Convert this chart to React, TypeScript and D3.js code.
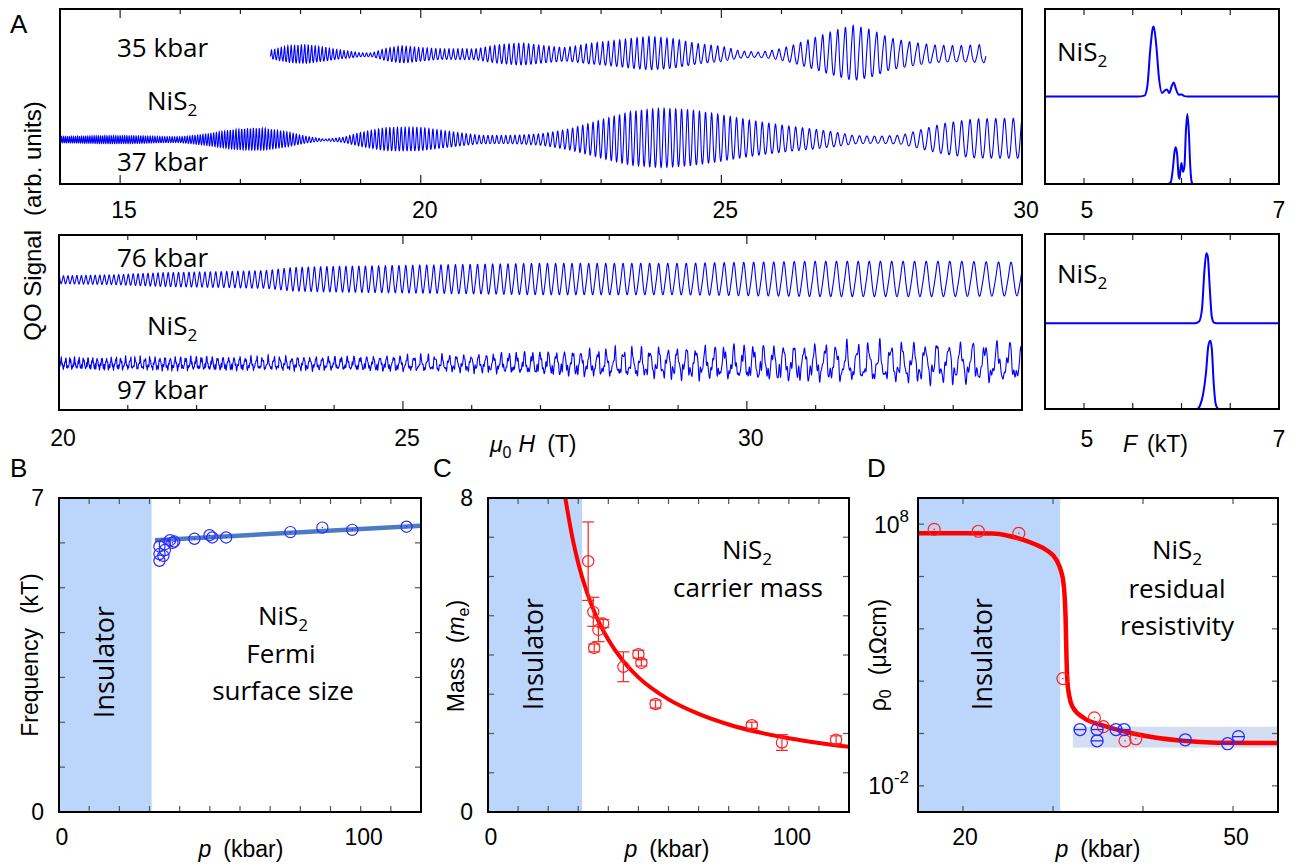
import React from 'react';
import * as d3 from 'd3';

// ---------- Panel A: quantum-oscillation traces ----------
// envelope = half-amplitude (arb. units) vs field (T)
const env35: [number, number][] = [[17.5,0.5],[17.8,0.9],[18.1,1.1],[18.4,0.9],[18.7,0.5],[19.0,0.2],[19.2,0.2],[19.4,0.6],[19.7,1.0],[20.1,1.0],[20.5,0.8],[20.9,0.6],[21.3,0.9],[21.7,1.1],[22.0,1.0],[22.4,0.9],[22.8,1.4],[23.3,1.6],[23.8,1.9],[24.2,1.8],[24.6,1.4],[25.0,1.1],[25.3,0.5],[25.6,0.3],[25.9,0.5],[26.2,0.9],[26.6,1.6],[26.9,2.2],[27.2,2.8],[27.5,2.6],[27.8,2.0],[28.2,1.7],[28.6,1.4],[29.0,1.3],[29.4,1.3]];
const env37: [number, number][] = [[14,0.4],[15,0.4],[16,0.5],[16.4,0.7],[16.9,1.0],[17.4,1.1],[17.8,0.8],[18.1,0.4],[18.4,0.1],[18.7,0.3],[19.0,0.8],[19.4,1.2],[20.0,1.2],[20.5,0.9],[21.0,0.6],[21.5,0.7],[22.0,0.9],[22.5,1.4],[23.0,2.1],[23.5,2.7],[24.0,2.9],[24.5,2.8],[25.0,2.5],[25.5,2.1],[26.0,1.7],[26.5,1.3],[26.9,0.9],[27.2,0.5],[27.6,0.4],[28.0,0.5],[28.3,1.0],[28.7,1.6],[29.2,2.0],[30.0,2.1]];
const env76: [number, number][] = [[20,0.4],[20.8,0.5],[21.5,0.7],[22.3,0.8],[23.0,0.9],[23.4,1.2],[24,1.3],[25,1.4],[26,1.5],[27,1.6],[28,1.6],[29,1.6],[30,1.7],[31,1.8],[32,1.8],[33,1.8],[34,1.7]];
const env97: [number, number][] = [[20,0.6],[22,0.7],[24,0.7],[25,0.8],[26,0.9],[27,1.2],[28,1.4],[29,1.6],[30,1.8],[31,1.9],[32,2.0],[33,2.1],[34,2.0]];
// dominant frequencies (T) and vertical offsets (arb. units)
const freqA = { p35: 5710, p37: 6060, p76: 6260, p97: 6290 };
const offsetA = { p35: 12.9, p37: 4.4, p76: 13.0, p97: 4.6 };
// extra spectral content [frequency multiple, rel. amplitude, phase] (secondary FFT peaks + harmonics)
const harm35: [number, number, number][] = [[1.0228, 0.12, 0.3], [1.0368, 0.18, 1.0], [2, 0.14, 0.7], [3, 0.06, 1.3]];
const harm37: [number, number, number][] = [[0.980, 0.18, 0.6], [0.990, 0.12, 2.1], [2, 0.1, 0.4]];
const harm76: [number, number, number][] = [[2, 0.1, 0.9], [3, 0.04, 0.2]];
const harm97: [number, number, number][] = [[2, 0.22, 0.5], [2.63, 0.3, 0.2], [3.71, 0.25, 1.1], [5.3, 0.15, 0.4]];

const fieldTicksUpper = [15, 20, 25, 30];
const fieldTicksLower = [20, 25, 30];

// ---------- FFT spectra: [F (kT), amplitude] ----------
const fft35: [number, number][] = [[4.6,0],[5.55,0],[5.62,0.005],[5.65,0.06],[5.68,0.27],[5.705,0.39],[5.715,0.40],[5.74,0.3],[5.77,0.1],[5.8,0.02],[5.83,0.035],[5.85,0.04],[5.875,0.02],[5.9,0.06],[5.92,0.08],[5.945,0.04],[5.97,0.01],[6.0,0.012],[6.03,0.002],[6.06,0],[7,0]];
const fft37: [number, number][] = [[4.6,0],[5.86,0],[5.89,0.01],[5.91,0.08],[5.93,0.19],[5.94,0.21],[5.955,0.17],[5.97,0.05],[5.98,0.03],[5.99,0.09],[6.0,0.12],[6.015,0.07],[6.03,0.1],[6.045,0.3],[6.06,0.40],[6.075,0.3],[6.09,0.1],[6.105,0.01],[6.12,0],[7,0]];
const fft76: [number, number][] = [[4.6,0],[6.14,0],[6.18,0.01],[6.21,0.08],[6.235,0.3],[6.255,0.4],[6.27,0.38],[6.29,0.2],[6.31,0.04],[6.33,0.005],[6.36,0],[7,0]];
const fft97: [number, number][] = [[4.6,0],[6.16,0],[6.19,0.02],[6.22,0.08],[6.25,0.2],[6.275,0.36],[6.295,0.39],[6.31,0.35],[6.33,0.15],[6.35,0.03],[6.37,0.005],[6.39,0],[7,0]];
const fftOffsets = { p35: 0.5, p37: 0, p76: 0.49, p97: 0 };
const fftTicks = [5, 5.5, 6, 6.5, 7];

// ---------- Panel B: frequency vs pressure ----------
const pB = [33.3,33.3,33.3,34.6,35.1,35.1,36.8,37.6,38.2,44.9,49.9,50.8,55.4,76.7,87.3,97.2,115.2];
const freqB = [5.6,5.75,5.92,5.71,5.84,5.97,6.06,6.0,6.03,6.09,6.17,6.12,6.12,6.24,6.34,6.29,6.36];
const fitB: [number, number][] = [[31.8, 6.06], [120, 6.38]];
const insulatorB = 30.7;

// ---------- Panel C: carrier mass ----------
const pC = [33.3,35.0,35.3,36.7,38.3,45.0,50.0,51.0,55.7,87.7,97.7,115.7];
const massC = [6.39,5.1,4.18,4.64,4.8,3.7,4.02,3.8,2.75,2.21,1.77,1.84];
const errC = [1.0,0.37,0.1,0.3,0.1,0.38,0.1,0.08,0.1,0.08,0.2,0.1];
const fitC: [number, number][] = [[25.7,8.0],[28,7.01],[30,6.34],[33,5.57],[36,4.98],[40,4.39],[45,3.84],[50,3.43],[60,2.87],[70,2.5],[80,2.23],[90,2.03],[100,1.88],[110,1.76],[120,1.66]];
const insulatorC = 31.3;

// ---------- Panel D: residual resistivity (log10 of µΩcm) ----------
const pDred = [16.8,21.7,26.2,31.1,34.6,35.6,38.0,39.2];
const logRhoRed = [7.8,7.73,7.65,2.1,0.6,0.26,-0.28,-0.2];
const pDblue = [33.0,34.9,34.9,37.0,37.9,44.7,49.4,50.6];
const logRhoBlue = [0.15,0.15,-0.28,0.15,0.15,-0.24,-0.39,-0.12];
const fitD: [number, number][] = [[15,7.65],[20,7.65],[23.3,7.64],[25,7.56],[26.7,7.4],[28,7.23],[29.3,7.0],[30.4,6.62],[30.9,6.2],[31.1,5.9],[31.3,5.2],[31.4,4.4],[31.5,2.9],[31.6,2.0],[31.8,1.45],[32.2,1.0],[33.4,0.6],[35.6,0.3],[38.9,0.0],[44.4,-0.28],[48.2,-0.35],[55,-0.36]];
const bandD = { p0: 32.2, p1: 55, lo: -0.54, hi: 0.26 };
const insulatorD = 30.8;

const BLUE = '#0000ff';
const RED = '#ff0000';
const INS = '#bcd6fb';
const SANS = '"Liberation Sans", Arial, sans-serif';
const TXT = '"Open Sans", "Noto Sans", sans-serif';

function buildTrace(env: [number, number][], F: number, offset: number, harm: [number, number, number][], step: number) {
  const amp = d3.scaleLinear().domain(env.map(d => d[0])).range(env.map(d => d[1])).clamp(true);
  const b0 = env[0][0], b1 = env[env.length - 1][0];
  const norm = 1 + 0.5 * harm.reduce((s, h) => s + h[1], 0);
  const pts: [number, number][] = [];
  for (let B = b0; B <= b1 + 1e-9; B += step) {
    let s = Math.cos(2 * Math.PI * F / B);
    for (const [k, a, ph] of harm) s += a * Math.cos(2 * Math.PI * k * F / B + ph);
    pts.push([B, offset + amp(B) * s / norm]);
  }
  return pts;
}

const NiS2 = ({ x, y, size = 26, anchor = 'middle' }: any) => (
  <text x={x} y={y} fontFamily={TXT} fontSize={size} textAnchor={anchor}>
    NiS<tspan dy={size * 0.22} fontSize={size * 0.66}>2</tspan>
  </text>
);

function boxTicksX(scale: any, vals: number[], y0: number, y1: number, len: (v: number) => number, color = '#444') {
  return vals.map((v, i) => (
    <g key={'tx' + i}>
      <line x1={scale(v)} x2={scale(v)} y1={y1} y2={y1 - len(v)} stroke={color} strokeWidth={1.2} />
      <line x1={scale(v)} x2={scale(v)} y1={y0} y2={y0 + len(v)} stroke={color} strokeWidth={1.2} />
    </g>
  ));
}
function boxTicksY(scale: any, vals: number[], x0: number, x1: number, len = 6, color = '#555') {
  return vals.map((v, i) => (
    <g key={'ty' + i}>
      <line x1={x0} x2={x0 + len} y1={scale(v)} y2={scale(v)} stroke={color} strokeWidth={1.2} />
      <line x1={x1} x2={x1 - len} y1={scale(v)} y2={scale(v)} stroke={color} strokeWidth={1.2} />
    </g>
  ));
}

export default function App() {
  // ---- Panel A scales
  const xA1 = d3.scaleLinear().domain([14, 30]).range([60, 1022]);
  const yA1 = d3.scaleLinear().domain([0, 17.5]).range([184, 9]);
  const xA2 = d3.scaleLinear().domain([20, 34]).range([59, 1022]);
  const yA2 = d3.scaleLinear().domain([0, 17.5]).range([410, 235]);
  const lineA1 = d3.line<[number, number]>().x(d => xA1(d[0])).y(d => yA1(d[1]));
  const lineA2 = d3.line<[number, number]>().x(d => xA2(d[0])).y(d => yA2(d[1]));
  const t35 = buildTrace(env35, freqA.p35, offsetA.p35, harm35, 0.0025);
  const t37 = buildTrace(env37, freqA.p37, offsetA.p37, harm37, 0.0025);
  const t76 = buildTrace(env76, freqA.p76, offsetA.p76, harm76, 0.002);
  const t97 = buildTrace(env97, freqA.p97, offsetA.p97, harm97, 0.0015);

  // ---- FFT scales
  const xF = d3.scaleLinear().domain([4.6, 7]).range([1045, 1279]);
  const yF1 = d3.scaleLinear().domain([0, 1]).range([184, 9]);
  const yF2 = d3.scaleLinear().domain([0, 1]).range([409, 234]);
  const lineF = (ys: any, off: number) => d3.line<[number, number]>().x(d => xF(d[0])).y(d => ys(d[1] + off)).curve(d3.curveMonotoneX);

  // ---- B/C/D scales
  const xB = d3.scaleLinear().domain([0, 120]).range([59, 421]);
  const yB = d3.scaleLinear().domain([0, 7]).range([812, 498]);
  const xC = d3.scaleLinear().domain([0, 120]).range([488, 849]);
  const yC = d3.scaleLinear().domain([0, 8]).range([812, 498]);
  const xD = d3.scaleLinear().domain([15, 55]).range([918, 1278]);
  const yD = d3.scaleLog().domain([1e-3, 1e9]).range([812, 498]);
  const lineC = d3.line<[number, number]>().x(d => xC(d[0])).y(d => yC(d[1])).curve(d3.curveMonotoneX);
  const lineD = d3.line<[number, number]>().x(d => xD(d[0])).y(d => yD(Math.pow(10, d[1]))).curve(d3.curveMonotoneX);

  const intTicks = (a: number, b: number, s = 1) => d3.range(a, b + 1e-9, s);

  return (
    <svg width={1297} height={865} style={{ position: 'absolute', left: 0, top: 0, background: '#fff' }}>
      <defs>
        <clipPath id="cA1"><rect x={60} y={9} width={962} height={175} /></clipPath>
        <clipPath id="cA2"><rect x={59} y={235} width={963} height={175} /></clipPath>
        <clipPath id="cF1"><rect x={1045} y={9} width={234} height={175} /></clipPath>
        <clipPath id="cF2"><rect x={1045} y={234} width={234} height={175} /></clipPath>
        <clipPath id="cB"><rect x={59} y={498} width={362} height={314} /></clipPath>
        <clipPath id="cC"><rect x={488} y={498} width={361} height={314} /></clipPath>
        <clipPath id="cD"><rect x={918} y={498} width={360} height={314} /></clipPath>
      </defs>

      {/* ===== Panel A upper ===== */}
      <text x={10} y={33} fontFamily={SANS} fontSize={26}>A</text>
      <g clipPath="url(#cA1)">
        <path d={lineA1(t35) as string} fill="none" stroke={BLUE} strokeWidth={1.1} />
        <path d={lineA1(t37) as string} fill="none" stroke={BLUE} strokeWidth={1.1} />
      </g>
      {boxTicksX(xA1, intTicks(15, 29), 9, 184, v => (fieldTicksUpper.includes(v) ? 9 : 5), '#222')}
      <rect x={60} y={9} width={962} height={175} fill="none" stroke="#000" strokeWidth={2} />
      {fieldTicksUpper.map(v => (
        <text key={'a1' + v} x={xA1(v) + 4} y={218} fontFamily={SANS} fontSize={23} textAnchor="middle">{v}</text>
      ))}
      <text x={117} y={57} fontFamily={TXT} fontSize={26}>35 kbar</text>
      <NiS2 x={147} y={110} anchor="start" />
      <text x={117} y={171} fontFamily={TXT} fontSize={26}>37 kbar</text>

      {/* ===== Panel A lower ===== */}
      <g clipPath="url(#cA2)">
        <path d={lineA2(t76) as string} fill="none" stroke={BLUE} strokeWidth={1.1} />
        <path d={lineA2(t97) as string} fill="none" stroke={BLUE} strokeWidth={1.1} />
      </g>
      {boxTicksX(xA2, intTicks(21, 33), 235, 410, v => (fieldTicksLower.includes(v) ? 9 : 5), '#222')}
      <rect x={59} y={235} width={963} height={175} fill="none" stroke="#000" strokeWidth={2} />
      {fieldTicksLower.map(v => (
        <text key={'a2' + v} x={xA2(v) + 4} y={446} fontFamily={SANS} fontSize={23} textAnchor="middle">{v}</text>
      ))}
      <text x={117} y={267} fontFamily={TXT} fontSize={26}>76 kbar</text>
      <NiS2 x={147} y={335} anchor="start" />
      <text x={117} y={399} fontFamily={TXT} fontSize={26}>97 kbar</text>
      <text x={490} y={452} fontFamily={SANS} fontSize={23}>
        <tspan fontStyle="italic">μ</tspan>
        <tspan dy={6} fontSize={16}>0</tspan>
        <tspan dy={-6} dx={7} fontStyle="italic">H</tspan>
        <tspan dx={12}>(T)</tspan>
      </text>

      {/* y title for A */}
      <text transform="translate(41,221) rotate(-90)" fontFamily={SANS} fontSize={24} textAnchor="middle">
        QO Signal<tspan dx={14}>(arb. units)</tspan>
      </text>

      {/* ===== FFT panels ===== */}
      <g clipPath="url(#cF1)">
        <path d={lineF(yF1, fftOffsets.p35)(fft35) as string} fill="none" stroke={BLUE} strokeWidth={2} />
        <path d={lineF(yF1, fftOffsets.p37)(fft37) as string} fill="none" stroke={BLUE} strokeWidth={2} />
      </g>
      {boxTicksX(xF, fftTicks.slice(0, 4), 9, 184, () => 6, '#222')}
      <rect x={1045} y={9} width={234} height={175} fill="none" stroke="#000" strokeWidth={2} />
      <NiS2 x={1057} y={61} anchor="start" />
      <text x={xF(5) + 3} y={218} fontFamily={SANS} fontSize={23} textAnchor="middle">5</text>
      <text x={xF(7)} y={218} fontFamily={SANS} fontSize={23} textAnchor="middle">7</text>

      <g clipPath="url(#cF2)">
        <path d={lineF(yF2, fftOffsets.p76)(fft76) as string} fill="none" stroke={BLUE} strokeWidth={2} />
        <path d={lineF(yF2, fftOffsets.p97)(fft97) as string} fill="none" stroke={BLUE} strokeWidth={2} />
      </g>
      {boxTicksX(xF, fftTicks.slice(0, 4), 234, 409, () => 6, '#222')}
      <rect x={1045} y={234} width={234} height={175} fill="none" stroke="#000" strokeWidth={2} />
      <NiS2 x={1057} y={283} anchor="start" />
      <text x={xF(5) + 3} y={447} fontFamily={SANS} fontSize={23} textAnchor="middle">5</text>
      <text x={xF(7)} y={447} fontFamily={SANS} fontSize={23} textAnchor="middle">7</text>
      <text x={1123} y={452} fontFamily={SANS} fontSize={23}>
        <tspan fontStyle="italic">F</tspan>
        <tspan dx={10}>(kT)</tspan>
      </text>

      {/* ===== Panel B ===== */}
      <text x={10} y={477} fontFamily={SANS} fontSize={26}>B</text>
      <g clipPath="url(#cB)">
        <rect x={xB(0)} y={498} width={xB(insulatorB) - xB(0)} height={314} fill={INS} />
        <path d={d3.line<[number, number]>().x(d => xB(d[0])).y(d => yB(d[1]))(fitB) as string} stroke="#4a7bc4" strokeWidth={4.5} fill="none" />
        {pB.map((p, i) => (
          <g key={'b' + i}>
            <circle cx={xB(p)} cy={yB(freqB[i])} r={5.6} fill="none" stroke="#2a2aff" strokeWidth={1.2} />
            <circle cx={xB(p)} cy={yB(freqB[i])} r={0.8} fill="#2a2aff" />
          </g>
        ))}
      </g>
      {boxTicksX(xB, intTicks(10, 110, 10), 498, 812, () => 6, '#555')}
      {boxTicksY(yB, intTicks(1, 6), 59, 421)}
      <rect x={59} y={498} width={362} height={314} fill="none" stroke="#000" strokeWidth={2} />
      <text x={44} y={498} dominantBaseline="central" fontFamily={SANS} fontSize={23} textAnchor="end">7</text>
      <text x={44} y={812} dominantBaseline="central" fontFamily={SANS} fontSize={23} textAnchor="end">0</text>
      <text x={xB(0) + 3} y={845} fontFamily={SANS} fontSize={23} textAnchor="middle">0</text>
      <text x={xB(100) + 3} y={845} fontFamily={SANS} fontSize={23} textAnchor="middle">100</text>
      <text x={241} y={857} fontFamily={SANS} fontSize={23} textAnchor="middle">
        <tspan fontStyle="italic">p</tspan><tspan dx={12}>(kbar)</tspan>
      </text>
      <text transform="translate(38,655) rotate(-90)" fontFamily={SANS} fontSize={23} textAnchor="middle">
        Frequency<tspan dx={14}>(kT)</tspan>
      </text>
      <text transform="translate(114,662) rotate(-90)" fontFamily={TXT} fontSize={27} textAnchor="middle">Insulator</text>
      <NiS2 x={283} y={625} />
      <text x={281} y={663} fontFamily={TXT} fontSize={26} textAnchor="middle">Fermi</text>
      <text x={283} y={700} fontFamily={TXT} fontSize={26} textAnchor="middle">surface size</text>

      {/* ===== Panel C ===== */}
      <text x={433} y={477} fontFamily={SANS} fontSize={26}>C</text>
      <g clipPath="url(#cC)">
        <rect x={xC(0)} y={498} width={xC(insulatorC) - xC(0)} height={314} fill={INS} />
        <path d={lineC(fitC) as string} stroke={RED} strokeWidth={4} fill="none" />
        {pC.map((p, i) => {
          const cx = xC(p), cy = yC(massC[i]);
          const yt = yC(massC[i] + errC[i]), yb = yC(massC[i] - errC[i]);
          return (
            <g key={'c' + i} stroke="#f22" strokeWidth={1.2} fill="none">
              <line x1={cx} x2={cx} y1={yt} y2={yb} />
              <line x1={cx - 6} x2={cx + 6} y1={yt} y2={yt} />
              <line x1={cx - 6} x2={cx + 6} y1={yb} y2={yb} />
              <circle cx={cx} cy={cy} r={5.6} />
            </g>
          );
        })}
      </g>
      {boxTicksX(xC, intTicks(10, 110, 10), 498, 812, () => 6, '#555')}
      {boxTicksY(yC, intTicks(1, 7), 488, 849)}
      <rect x={488} y={498} width={361} height={314} fill="none" stroke="#000" strokeWidth={2} />
      <text x={473} y={498} dominantBaseline="central" fontFamily={SANS} fontSize={23} textAnchor="end">8</text>
      <text x={473} y={812} dominantBaseline="central" fontFamily={SANS} fontSize={23} textAnchor="end">0</text>
      <text x={xC(0) + 3} y={845} fontFamily={SANS} fontSize={23} textAnchor="middle">0</text>
      <text x={xC(100) + 3} y={845} fontFamily={SANS} fontSize={23} textAnchor="middle">100</text>
      <text x={667} y={857} fontFamily={SANS} fontSize={23} textAnchor="middle">
        <tspan fontStyle="italic">p</tspan><tspan dx={12}>(kbar)</tspan>
      </text>
      <text transform="translate(464,656) rotate(-90)" fontFamily={SANS} fontSize={23} textAnchor="middle">
        Mass<tspan dx={14}>(</tspan><tspan fontStyle="italic">m</tspan><tspan dy={5} fontSize={16}>e</tspan><tspan dy={-5}>)</tspan>
      </text>
      <text transform="translate(543,654) rotate(-90)" fontFamily={TXT} fontSize={27} textAnchor="middle">Insulator</text>
      <NiS2 x={747} y={559} />
      <text x={748} y={597} fontFamily={TXT} fontSize={26} textAnchor="middle">carrier mass</text>

      {/* ===== Panel D ===== */}
      <text x={867} y={477} fontFamily={SANS} fontSize={26}>D</text>
      <g clipPath="url(#cD)">
        <rect x={xD(15)} y={498} width={xD(insulatorD) - xD(15)} height={314} fill={INS} />
        <rect x={xD(bandD.p0)} y={yD(Math.pow(10, bandD.hi))} width={xD(bandD.p1) - xD(bandD.p0)}
          height={yD(Math.pow(10, bandD.lo)) - yD(Math.pow(10, bandD.hi))} fill="#d3def2" />
        <path d={lineD(fitD) as string} stroke={RED} strokeWidth={4.5} fill="none" />
        {pDred.map((p, i) => (
          <g key={'dr' + i}>
            <circle cx={xD(p)} cy={yD(Math.pow(10, logRhoRed[i]))} r={6} fill="none" stroke="#f22" strokeWidth={1.2} />
            <circle cx={xD(p)} cy={yD(Math.pow(10, logRhoRed[i]))} r={0.8} fill="#f22" />
          </g>
        ))}
        {pDblue.map((p, i) => {
          const cx = xD(p), cy = yD(Math.pow(10, logRhoBlue[i]));
          return (
            <g key={'db' + i} stroke="#2a2aff" strokeWidth={1.3} fill="none">
              <circle cx={cx} cy={cy} r={6} />
              <line x1={cx - 6} x2={cx + 6} y1={cy} y2={cy} />
            </g>
          );
        })}
      </g>
      {boxTicksX(xD, [20, 30, 40, 50], 498, 812, () => 6, '#555')}
      {boxTicksY((v: number) => yD(Math.pow(10, v)), [-2, 0, 2, 4, 6, 8], 918, 1278)}
      <rect x={918} y={498} width={360} height={314} fill="none" stroke="#000" strokeWidth={2} />
      <text x={909} y={533} fontFamily={SANS} fontSize={23} textAnchor="end">
        10<tspan dy={-11} fontSize={17}>8</tspan>
      </text>
      <text x={909} y={794} fontFamily={SANS} fontSize={23} textAnchor="end">
        10<tspan dy={-11} fontSize={17}>-2</tspan>
      </text>
      <text x={xD(20) + 2} y={845} fontFamily={SANS} fontSize={23} textAnchor="middle">20</text>
      <text x={xD(50) + 3} y={845} fontFamily={SANS} fontSize={23} textAnchor="middle">50</text>
      <text x={1098} y={857} fontFamily={SANS} fontSize={23} textAnchor="middle">
        <tspan fontStyle="italic">p</tspan><tspan dx={12}>(kbar)</tspan>
      </text>
      <text transform="translate(886,655) rotate(-90)" fontFamily={SANS} fontSize={23} textAnchor="middle">
        ρ<tspan dy={5} fontSize={16}>0</tspan><tspan dy={-5} dx={14}>(μΩcm)</tspan>
      </text>
      <text transform="translate(992,654) rotate(-90)" fontFamily={TXT} fontSize={27} textAnchor="middle">Insulator</text>
      <NiS2 x={1177} y={559} />
      <text x={1177} y={598} fontFamily={TXT} fontSize={26} textAnchor="middle">residual</text>
      <text x={1177} y={635} fontFamily={TXT} fontSize={26} textAnchor="middle">resistivity</text>
    </svg>
  );
}
